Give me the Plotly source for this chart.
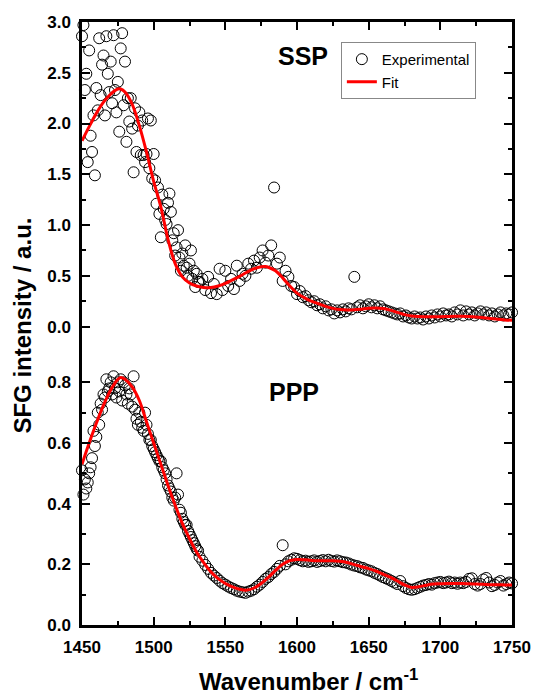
import plotly.graph_objects as go

# ---------------- data ----------------
# SSP experimental: 1 cm-1 steps 1450-1531, then 2 cm-1 steps 1532-1750
ssp_exp_x = list(range(1450, 1532)) + list(range(1532, 1751, 2))
ssp_exp_y = [
    2.86, 2.97, 2.33, 2.49, 1.62, 2.72, 1.88, 1.72, 2.08, 1.49,
    2.35, 2.13, 2.84, 2.28, 2.58, 2.67, 2.08, 2.86, 2.49, 2.31,
    2.61, 2.20, 2.87, 2.33, 2.11, 2.41, 1.92, 2.74, 2.89, 2.18,
    2.61, 1.82, 2.25, 2.02, 2.25, 1.95, 1.52, 2.15, 1.72, 1.98,
    2.11, 1.69, 2.03, 1.69, 1.62, 1.70, 2.05, 1.56, 2.03, 1.46,
    1.70, 1.44, 1.21, 1.37, 1.11, 0.88, 1.30, 1.16, 1.05, 1.01,
    1.22, 1.31, 1.13, 0.85, 0.92, 0.70, 0.78, 0.95, 0.68, 0.55,
    0.72, 0.60, 0.80, 0.58, 0.50, 0.62, 0.75, 0.47, 0.55, 0.39,
    0.52, 0.44,
    # 1532 .. 1750 step 2
    0.44, 0.47, 0.36, 0.49, 0.33, 0.42, 0.32, 0.57, 0.36, 0.55,
    0.40, 0.47, 0.37, 0.60, 0.45, 0.52, 0.50, 0.62, 0.57, 0.65,
    0.58, 0.68, 0.75, 0.63, 0.70, 0.80, 1.37, 0.62, 0.68, 0.45,
    0.55, 0.49, 0.40, 0.39, 0.32, 0.35, 0.29, 0.30, 0.26, 0.24,
    0.25, 0.21, 0.22, 0.18, 0.20, 0.16, 0.17, 0.13, 0.16, 0.14,
    0.17, 0.15, 0.18, 0.17, 0.49, 0.19, 0.21, 0.18, 0.20, 0.22,
    0.19, 0.21, 0.18, 0.20, 0.17, 0.16, 0.15, 0.14, 0.13, 0.12,
    0.13, 0.10, 0.11, 0.09, 0.08, 0.10, 0.08, 0.09, 0.07, 0.10,
    0.08, 0.11, 0.09, 0.12, 0.10, 0.13, 0.11, 0.12, 0.10, 0.14,
    0.12, 0.16, 0.11, 0.15, 0.12, 0.14, 0.11, 0.13, 0.15, 0.12,
    0.14, 0.11, 0.13, 0.10, 0.12, 0.14, 0.11, 0.13, 0.12, 0.14,
]

ssp_fit_x = [1450, 1455, 1460, 1465, 1470, 1475, 1477, 1480, 1485, 1490,
             1495, 1500, 1505, 1510, 1515, 1520, 1525, 1530, 1535, 1540,
             1545, 1550, 1555, 1560, 1565, 1570, 1575, 1578, 1580, 1585,
             1590, 1595, 1600, 1605, 1610, 1615, 1620, 1625, 1630, 1635,
             1640, 1645, 1650, 1655, 1660, 1665, 1670, 1675, 1680, 1685,
             1690, 1695, 1700, 1705, 1710, 1715, 1720, 1725, 1730, 1735,
             1740, 1745, 1750]
ssp_fit_y = [1.83, 1.97, 2.10, 2.21, 2.29, 2.34, 2.34, 2.31, 2.19, 1.98,
             1.72, 1.43, 1.18, 0.86, 0.62, 0.49, 0.43, 0.40, 0.385, 0.385,
             0.40, 0.425, 0.46, 0.495, 0.535, 0.57, 0.59, 0.592, 0.585, 0.55,
             0.48, 0.40, 0.33, 0.285, 0.25, 0.225, 0.20, 0.18, 0.168, 0.163,
             0.165, 0.172, 0.18, 0.183, 0.178, 0.162, 0.14, 0.118, 0.105, 0.10,
             0.098, 0.097, 0.098, 0.10, 0.102, 0.103, 0.10, 0.095, 0.088, 0.08,
             0.072, 0.066, 0.062]

# PPP experimental
ppp_exp_x = list(range(1450, 1532)) + list(range(1532, 1751, 2))
ppp_exp_y = [
    0.51, 0.43, 0.48, 0.45, 0.47, 0.50, 0.52, 0.55, 0.64, 0.59,
    0.62, 0.70, 0.66, 0.73, 0.71, 0.76, 0.75, 0.81, 0.77, 0.78,
    0.80, 0.76, 0.82, 0.78, 0.75, 0.80, 0.77, 0.81, 0.74, 0.80,
    0.79, 0.76, 0.73, 0.78, 0.76, 0.72, 0.82, 0.71, 0.68, 0.66,
    0.70, 0.67, 0.65, 0.64, 0.70, 0.66, 0.63, 0.61, 0.61, 0.59,
    0.58, 0.57, 0.56, 0.55, 0.54, 0.54, 0.52, 0.51, 0.50, 0.48,
    0.46, 0.45, 0.44, 0.42, 0.41, 0.42, 0.50, 0.43, 0.38, 0.37,
    0.35, 0.34, 0.33, 0.33, 0.31, 0.30, 0.29, 0.28, 0.27, 0.26,
    0.25, 0.245,
    # 1532 .. 1750 step 2
    0.225, 0.212, 0.198, 0.185, 0.172, 0.163, 0.155, 0.146, 0.138, 0.133,
    0.127, 0.122, 0.118, 0.113, 0.110, 0.108, 0.106, 0.110, 0.113, 0.118,
    0.126, 0.133, 0.142, 0.152, 0.158, 0.168, 0.175, 0.185, 0.195, 0.263,
    0.200, 0.210, 0.215, 0.220, 0.218, 0.214, 0.210, 0.212, 0.208, 0.210,
    0.213, 0.208, 0.211, 0.214, 0.210, 0.215, 0.211, 0.209, 0.213, 0.210,
    0.207, 0.206, 0.203, 0.199, 0.196, 0.194, 0.190, 0.188, 0.183, 0.180,
    0.177, 0.172, 0.168, 0.163, 0.158, 0.154, 0.150, 0.145, 0.140, 0.135,
    0.145, 0.128, 0.122, 0.118, 0.116, 0.118, 0.122, 0.126, 0.130, 0.132,
    0.135, 0.133, 0.138, 0.140, 0.142, 0.138, 0.140, 0.143, 0.138, 0.140,
    0.136, 0.140, 0.138, 0.142, 0.152, 0.154, 0.135, 0.130, 0.135, 0.150,
    0.155, 0.140, 0.128, 0.132, 0.140, 0.145, 0.130, 0.135, 0.140, 0.137,
]

ppp_fit_x = [1450, 1455, 1460, 1465, 1470, 1475, 1477, 1480, 1485, 1490,
             1495, 1500, 1505, 1510, 1515, 1520, 1525, 1530, 1535, 1540,
             1545, 1550, 1555, 1560, 1565, 1570, 1575, 1580, 1585, 1590,
             1595, 1600, 1605, 1610, 1615, 1620, 1625, 1630, 1635, 1640,
             1645, 1650, 1655, 1660, 1665, 1670, 1675, 1680, 1685, 1690,
             1695, 1700, 1705, 1710, 1715, 1720, 1725, 1730, 1735, 1740,
             1745, 1750]
ppp_fit_y = [0.53, 0.60, 0.665, 0.725, 0.775, 0.81, 0.816, 0.81, 0.785, 0.74,
             0.67, 0.60, 0.53, 0.46, 0.395, 0.335, 0.285, 0.24, 0.205, 0.175,
             0.153, 0.137, 0.126, 0.118, 0.115, 0.122, 0.137, 0.157, 0.18, 0.20,
             0.212, 0.216, 0.215, 0.213, 0.212, 0.212, 0.212, 0.21, 0.206, 0.199,
             0.192, 0.186, 0.178, 0.168, 0.158, 0.145, 0.132, 0.124, 0.126, 0.131,
             0.135, 0.136, 0.137, 0.137, 0.137, 0.136, 0.135, 0.134, 0.133, 0.133,
             0.132, 0.132]

x_ticks = [1450, 1500, 1550, 1600, 1650, 1700, 1750]
ssp_ticks = [0.0, 0.5, 1.0, 1.5, 2.0, 2.5, 3.0]
ppp_ticks = [0.0, 0.2, 0.4, 0.6, 0.8]

# ---------------- figure ----------------
FONT = "Liberation Sans, Arial, sans-serif"
marker = dict(symbol="circle-open", size=11, color="black", line=dict(width=1, color="black"))
fitline = dict(color="#ff0000", width=3, shape="spline")

fig = go.Figure()
fig.add_trace(go.Scatter(x=ssp_exp_x, y=ssp_exp_y, mode="markers", marker=marker,
                         name="Experimental", xaxis="x2", yaxis="y2", cliponaxis=False))
fig.add_trace(go.Scatter(x=ssp_fit_x, y=ssp_fit_y, mode="lines", line=fitline,
                         name="Fit", xaxis="x2", yaxis="y2"))
fig.add_trace(go.Scatter(x=ppp_exp_x, y=ppp_exp_y, mode="markers", marker=marker,
                         name="Experimental", showlegend=False, xaxis="x", yaxis="y",
                         cliponaxis=False))
fig.add_trace(go.Scatter(x=ppp_fit_x, y=ppp_fit_y, mode="lines", line=fitline,
                         name="Fit", showlegend=False, xaxis="x", yaxis="y"))

tickfont = dict(family=FONT, size=17, color="black", weight="bold")
common = dict(showline=True, linewidth=2.5, linecolor="black", showgrid=False, zeroline=False,
              ticks="inside", ticklen=8, tickwidth=2, tickcolor="black", automargin=False)
split = 273 / 603

fig.update_layout(
    width=533, height=695,
    margin=dict(l=82, r=21, t=22, b=70, autoexpand=False),
    paper_bgcolor="white", plot_bgcolor="white",
    showlegend=True,
    xaxis=dict(domain=[0, 1], anchor="y", range=[1450, 1750], tickvals=x_ticks,
               tickfont=tickfont, ticklabelstandoff=5,
               minor=dict(dtick=25, tick0=1450, ticks="inside", ticklen=4, tickwidth=2,
                          tickcolor="black"),
               **common),
    xaxis2=dict(domain=[0, 1], anchor="y2", matches="x", range=[1450, 1750], side="top",
                tickvals=x_ticks, showticklabels=False,
                minor=dict(dtick=25, tick0=1450, ticks="inside", ticklen=4, tickwidth=2,
                           tickcolor="black"),
                **common),
    yaxis=dict(domain=[0, split], anchor="x", range=[0, 0.9], tickvals=ppp_ticks,
               tickformat=".1f", tickfont=tickfont, mirror="ticks", ticklabelstandoff=5,
               minor=dict(dtick=0.1, tick0=0, ticks="inside", ticklen=4, tickwidth=2,
                          tickcolor="black"),
               **common),
    yaxis2=dict(domain=[split, 1], anchor="x2", range=[-0.25, 3.0], tickvals=ssp_ticks,
                tickformat=".1f", tickfont=tickfont, mirror="ticks", ticklabelstandoff=5,
                minor=dict(dtick=0.25, tick0=0, ticks="inside", ticklen=4, tickwidth=2,
                           tickcolor="black"),
                **common),
    legend=dict(x=0.602, y=0.967, xanchor="left", yanchor="top",
                bgcolor="white", bordercolor="#888888", borderwidth=1,
                font=dict(family=FONT, size=15, color="black"),
                tracegroupgap=0, itemwidth=30),
    annotations=[
        dict(text="SSP", x=1604, y=2.665, xref="x2", yref="y2", showarrow=False,
             font=dict(family=FONT, size=25, color="black", weight="bold")),
        dict(text="PPP", x=1598, y=0.767, xref="x", yref="y", showarrow=False,
             font=dict(family=FONT, size=25, color="black", weight="bold")),
        dict(text="SFG intensity / a.u.", x=-0.138, y=0.496, xref="paper", yref="paper",
             textangle=-90, showarrow=False, xanchor="center", yanchor="middle",
             font=dict(family=FONT, size=24, color="black", weight="bold")),
        dict(text="Wavenumber / cm<sup>-1</sup>", x=0.526, y=-0.092, xref="paper",
             yref="paper", showarrow=False, xanchor="center", yanchor="middle",
             font=dict(family=FONT, size=24, color="black", weight="bold")),
    ],
)

fig.write_html("out.html",
               config={"displayModeBar": False},
               post_script="document.body.style.margin='0';document.body.style.padding='0';")
